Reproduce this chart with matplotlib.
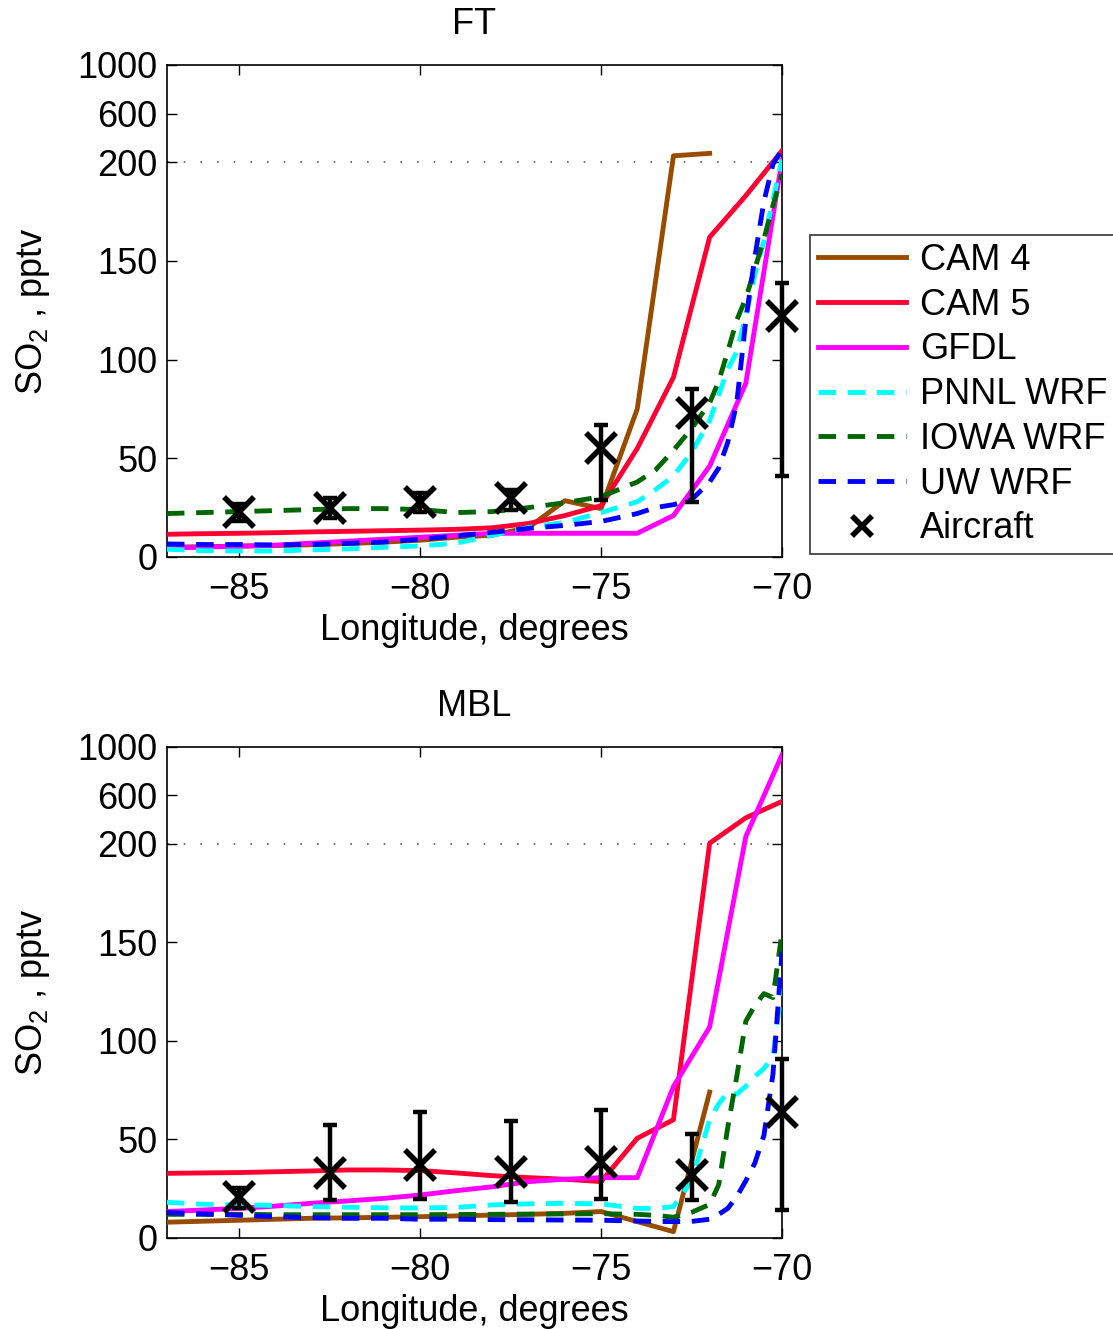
import numpy as np
import matplotlib
matplotlib.use("Agg")
import matplotlib.pyplot as plt

plt.rcParams['font.family'] = ['Liberation Sans', 'DejaVu Sans']
plt.rcParams['mathtext.fontset'] = 'custom'
plt.rcParams['mathtext.rm'] = 'Liberation Sans'
plt.rcParams['mathtext.it'] = 'Liberation Sans'
plt.rcParams['font.size'] = 26

# --- data -------------------------------------------------------------------
# global models, 1 degree output
cam_lon = [-87, -86, -85, -84, -83, -82, -81, -80, -79, -78, -77, -76, -75, -74, -73, -72, -71, -70]
# regional WRF runs, finer near the coast
wrf_lon = [-87, -86, -85, -84, -83, -82, -81, -80, -79, -78, -77, -76, -75, -74,
           -73.5, -73, -72.5, -72, -71.75, -71.5, -71.25, -71, -70.75, -70.5, -70.25, -70]

nan = np.nan

# free troposphere (FT)
cam4_ft = [5, 5.2, 5.5, 5.8, 6.2, 6.8, 7.5, 8.5, 10, 11, 15, 28.5, 24.5, 75, 252, 272, nan, nan]
cam5_ft = [11.5, 11.8, 12, 12.3, 12.7, 13, 13.3, 13.6, 14, 14.8, 17, 21, 26, 55, 91, 162, 183, 294]
gfdl_ft = [4.5, 5, 5.5, 6, 7, 8, 9, 10, 11, 12, 12, 12, 12, 12, 21, 46, 88, 215]
pnnl_ft = [3.9, 3.2, 3.0, 3.1, 3.6, 4.1, 4.9, 5.6, 7.0, 11, 15, 17.5, 22.5, 28,
           34, 41, 53, 69, 82, 95, 104, 122, 143, 160, 181, 220]
iowa_ft = [22, 22.5, 23, 23.5, 24, 24.5, 24.5, 24, 22.5, 23, 25, 27.5, 30.5, 38,
           44, 54, 65, 78, 89, 104, 120, 131, 146, 161, 178, 194]
uw_ft = [6.6, 6.3, 6.3, 6.1, 6.3, 6.9, 7.6, 9, 10.7, 12.5, 14.5, 16, 18, 22,
         25, 26.5, 29, 38, 45, 58, 78, 120, 152, 180, 199, 300]

# marine boundary layer (MBL)
cam4_mbl = [8, 8.5, 9, 9.5, 10, 10.2, 10.5, 10.8, 11.2, 11.6, 12, 12.5, 13.4, 8.3, 3.2, 74, nan, nan]
cam5_mbl = [32.8, 33, 33.2, 33.6, 34, 34.5, 34.5, 34.2, 33, 31.6, 30.6, 29.8, 28.6, 50.6, 60, 205, 415, 550]
gfdl_mbl = [13.4, 14.2, 15, 16.2, 17.6, 18.8, 20.1, 21.8, 24, 26, 28.6, 29.8, 30.6, 30.6, 76.8, 107, 260, 935]
pnnl_mbl = [18.1, 17.1, 16.8, 16.5, 15.9, 15.6, 15.3, 15.2, 15.5, 16.8, 17.3, 17.6, 17.3, 15,
            15, 15.9, 29, 60, 68, 74, 73, 77, 82, 86, 92, 128]
iowa_mbl = [12, 12, 12, 11.8, 11.8, 11.8, 11.8, 11.8, 11.9, 12, 12.1, 12.2, 12.3, 12,
            11.5, 10.5, 13, 17, 27, 56, 82, 110, 118, 124, 122, 155]
uw_mbl = [12.9, 12.2, 11.5, 10.8, 10.3, 10, 10, 9.5, 9.5, 9.3, 9.2, 9.1, 9, 8.6,
          8.4, 8.3, 8.4, 9.5, 12, 15, 21, 29, 38, 52, 83, 145]

# aircraft observations (median with spread)
air_lon = [-85, -82.5, -80, -77.5, -75, -72.5, -70]
air_ft = [23, 24.7, 28, 29.8, 55, 73, 122]
air_ft_lo = [18, 19.6, 23, 24, 29, 28, 41]
air_ft_hi = [27, 29.8, 32.3, 34, 67, 85, 139]
air_mbl = [20.6, 32.8, 37, 33.7, 38.7, 32, 64]
air_mbl_lo = [15, 19.3, 19.6, 18.4, 19.6, 19.3, 14.2]
air_mbl_hi = [25.2, 57.4, 64, 59.4, 65, 53, 91]

y_ticks = [0, 50, 100, 150, 200, 600, 1000]

# --- styles -----------------------------------------------------------------
DASH = (0, (3.6, 2.4))
series_style = [
    ('CAM 4', '#994C00', '-'),
    ('CAM 5', '#FF0033', '-'),
    ('GFDL', '#FF00FF', '-'),
    ('PNNL WRF', '#00FFFF', DASH),
    ('IOWA WRF', '#006600', DASH),
    ('UW WRF', '#0000FF', DASH),
]

BREAK = 200.0
SQUEEZE = 0.0615  # above 200 pptv the axis is compressed


def fwd(y):
    y = np.asarray(y, dtype=float)
    return np.where(y <= BREAK, y, BREAK + (y - BREAK) * SQUEEZE)


def inv(y):
    y = np.asarray(y, dtype=float)
    return np.where(y <= BREAK, y, BREAK + (y - BREAK) / SQUEEZE)


def draw_panel(ax, title, model_rows, air, air_lo, air_hi):
    """One longitude section: models as lines, aircraft as x with bars."""
    ax.set_yscale('function', functions=(fwd, inv))
    ax.axhline(BREAK, color='0.35', linestyle=(0, (1, 9)), linewidth=1.2, zorder=1)

    for (label, color, ls), (lon, vals) in zip(series_style, model_rows):
        ax.plot(lon, vals, color=color, linestyle=ls, linewidth=3.5, label=label, zorder=3)

    air = np.array(air)
    yerr = [air - np.array(air_lo), np.array(air_hi) - air]
    ax.errorbar(air_lon, air, yerr=yerr, fmt='none', ecolor='k', elinewidth=3.2,
                capsize=5, capthick=3.2, clip_on=False, zorder=5)
    ax.plot(air_lon, air, 'x', color='k', markersize=21, markeredgewidth=4,
            clip_on=False, zorder=6, label='Aircraft')

    ax.set_xlim(-87, -70)
    ax.set_ylim(0, 1000)
    ax.set_xticks([-85, -80, -75, -70])
    ax.set_yticks(y_ticks)
    ax.set_yticklabels([str(t) for t in y_ticks])
    ax.minorticks_off()
    ax.tick_params(direction='in', top=True, right=True, length=7, width=1)
    ax.tick_params(axis='x', pad=11)
    ax.tick_params(axis='y', pad=7)
    for sp in ax.spines.values():
        sp.set_linewidth(1.2)

    ax.set_title(title, pad=22, fontsize=26)
    ax.set_xlabel('Longitude, degrees', labelpad=4)
    ax.set_ylabel(r'SO$_2$ , pptv', labelpad=18)


fig = plt.figure(figsize=(11.13, 13.29), dpi=100)
ax_ft = fig.add_axes([0.150, 0.5809, 0.5526, 0.3702])
ax_mbl = fig.add_axes([0.150, 0.0685, 0.5526, 0.3695])

ft_rows = [(cam_lon, cam4_ft), (cam_lon, cam5_ft), (cam_lon, gfdl_ft),
           (wrf_lon, pnnl_ft), (wrf_lon, iowa_ft), (wrf_lon, uw_ft)]
mbl_rows = [(cam_lon, cam4_mbl), (cam_lon, cam5_mbl), (cam_lon, gfdl_mbl),
            (wrf_lon, pnnl_mbl), (wrf_lon, iowa_mbl), (wrf_lon, uw_mbl)]

draw_panel(ax_ft, 'FT', ft_rows, air_ft, air_ft_lo, air_ft_hi)
draw_panel(ax_mbl, 'MBL', mbl_rows, air_mbl, air_mbl_lo, air_mbl_hi)

handles, labels = ax_ft.get_legend_handles_labels()
leg = fig.legend(handles, labels, loc='upper left', bbox_to_anchor=(0.7278, 0.8232),
                 borderaxespad=0, frameon=True, fancybox=False, fontsize=26,
                 handlelength=2.45, handletextpad=0.38, labelspacing=0.27,
                 borderpad=0.22, markerscale=0.7)
leg.get_frame().set_edgecolor('k')
leg.get_frame().set_linewidth(1.2)

fig.savefig('out.png', dpi=100)
